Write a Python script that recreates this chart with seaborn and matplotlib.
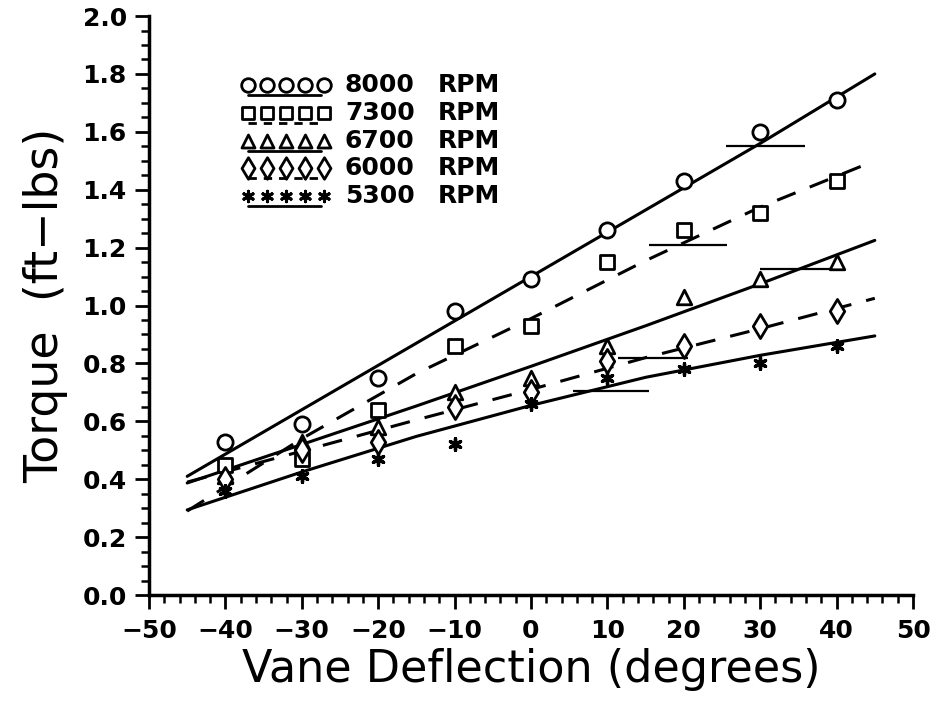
import numpy as np
import matplotlib
matplotlib.use("Agg")
import matplotlib.pyplot as plt
import seaborn as sns
from matplotlib.ticker import MultipleLocator, FormatStrFormatter

# Measured torque at each vane deflection, one list per rotor speed
deflection = [-40, -30, -20, -10, 0, 10, 20, 30, 40]
torque_8000 = [0.53, 0.59, 0.75, 0.98, 1.09, 1.26, 1.43, 1.60, 1.71]
torque_7300 = [0.45, 0.47, 0.64, 0.86, 0.93, 1.15, 1.26, 1.32, 1.43]
torque_6700 = [0.41, 0.53, 0.58, 0.70, 0.75, 0.86, 1.03, 1.09, 1.15]
torque_6000 = [0.40, 0.50, 0.53, 0.65, 0.70, 0.81, 0.86, 0.93, 0.98]
torque_5300 = [0.36, 0.41, 0.47, 0.52, 0.66, 0.75, 0.78, 0.80, 0.86]

# Curve-fit values sampled along the deflection range
fit_deflection = [-45, -30, -15, 0, 15, 30, 45]
fit_8000 = [0.41, 0.64, 0.87, 1.10, 1.33, 1.56, 1.80]
fit_7300 = [0.29, 0.54, 0.765, 0.955, 1.155, 1.34, 1.50]
fit_6700 = [0.387, 0.52, 0.653, 0.79, 0.93, 1.075, 1.225]
fit_6000 = [0.39, 0.497, 0.605, 0.71, 0.82, 0.92, 1.025]
fit_5300 = [0.294, 0.425, 0.548, 0.655, 0.752, 0.828, 0.895]

# Short horizontal strokes left on the plot field
stroke_y = [1.55, 1.21, 1.125, 0.82, 0.705]
stroke_x0 = [25.5, 15.5, 30.0, 11.4, 5.5]
stroke_x1 = [35.8, 25.6, 40.0, 20.6, 15.5]

speeds = ["8000", "7300", "6700", "6000", "5300"]
measured = [torque_8000, torque_7300, torque_6700, torque_6000, torque_5300]
fitted = [fit_8000, fit_7300, fit_6700, fit_6000, fit_5300]

DASH = (0, (6.5, 5.0))
styles = {
    "8000": dict(marker="o", s=120, ls="-"),
    "7300": dict(marker="s", s=95, ls=DASH),
    "6700": dict(marker="^", s=110, ls="-"),
    "6000": dict(marker="d", s=150, ls=DASH),
    "5300": dict(marker=(6, 2, 0), s=70, ls="-"),
}

sns.set_theme(style="ticks")
plt.rcParams["font.family"] = ["DejaVu Sans"]
for key in ("text.color", "axes.labelcolor", "xtick.color", "ytick.color",
            "axes.edgecolor"):
    plt.rcParams[key] = "black"

fig = plt.figure(figsize=(9.37, 7.03), dpi=100)
ax = fig.add_axes([0.159, 0.1536, 0.8154, 0.8236])

for sp, y_meas, y_fit in zip(speeds, measured, fitted):
    st = styles[sp]
    sns.lineplot(x=fit_deflection, y=y_fit, color="black", lw=2.2,
                 linestyle=st["ls"], ax=ax)
    if sp == "5300":
        sns.scatterplot(x=deflection, y=y_meas, marker=st["marker"], s=st["s"],
                        color="black", linewidth=2.4, ax=ax, zorder=4)
    else:
        sns.scatterplot(x=deflection, y=y_meas, marker=st["marker"], s=st["s"],
                        facecolor="white", edgecolor="black", linewidth=2.0,
                        ax=ax, zorder=4)

ax.hlines(stroke_y, stroke_x0, stroke_x1, color="black", lw=1.6)

# Key in the upper left: five sample symbols over a stroke, then the speed
row_y = [0.881, 0.8325, 0.784, 0.7375, 0.689]
sym_x = np.linspace(0.1296, 0.2291, 5)
for sp, yy in zip(speeds, row_y):
    st = styles[sp]
    if sp == "5300":
        ax.scatter(sym_x, [yy] * 5, marker=st["marker"], s=st["s"] * 0.8,
                   color="black", linewidth=2.2, transform=ax.transAxes, zorder=5)
    else:
        ax.scatter(sym_x, [yy] * 5, marker=st["marker"], s=st["s"] * 0.8,
                   facecolor="white", edgecolor="black", linewidth=2.0,
                   transform=ax.transAxes, zorder=5)
    ax.plot([0.1296, 0.225], [yy - 0.017] * 2, color="black", lw=2.0,
            linestyle="-" if st["ls"] == "-" else (0, (3, 2.5)),
            transform=ax.transAxes)
    ax.text(0.2565, yy, sp, transform=ax.transAxes, fontsize=18,
            fontweight="bold", va="center", ha="left")
    ax.text(0.378, yy, "RPM", transform=ax.transAxes, fontsize=18,
            fontweight="bold", va="center", ha="left")

ax.set_xlim(-50, 50)
ax.set_ylim(0, 2.0)
ax.xaxis.set_major_locator(MultipleLocator(10))
ax.xaxis.set_minor_locator(MultipleLocator(2))
ax.yaxis.set_major_locator(MultipleLocator(0.2))
ax.yaxis.set_minor_locator(MultipleLocator(0.05))
ax.yaxis.set_major_formatter(FormatStrFormatter("%.1f"))

for side in ("top", "right"):
    ax.spines[side].set_visible(False)
for side in ("left", "bottom"):
    ax.spines[side].set_linewidth(2.5)
    ax.spines[side].set_color("black")

ax.tick_params(which="major", direction="out", length=10, width=2.0,
               color="black", labelcolor="black", labelsize=18)
ax.tick_params(which="minor", direction="out", length=6, width=1.8,
               color="black")
ax.tick_params(axis="x", which="major", pad=7)
ax.tick_params(axis="y", which="major", pad=6)
for lab in ax.get_xticklabels() + ax.get_yticklabels():
    lab.set_fontweight("bold")

ax.set_xlabel("Vane Deflection (degrees)", fontsize=32, labelpad=4,
              color="black")
ax.set_ylabel("Torque  (ft\u2212lbs)", fontsize=33, labelpad=10,
              color="black")

fig.savefig("out.png", dpi=100, facecolor="white")
